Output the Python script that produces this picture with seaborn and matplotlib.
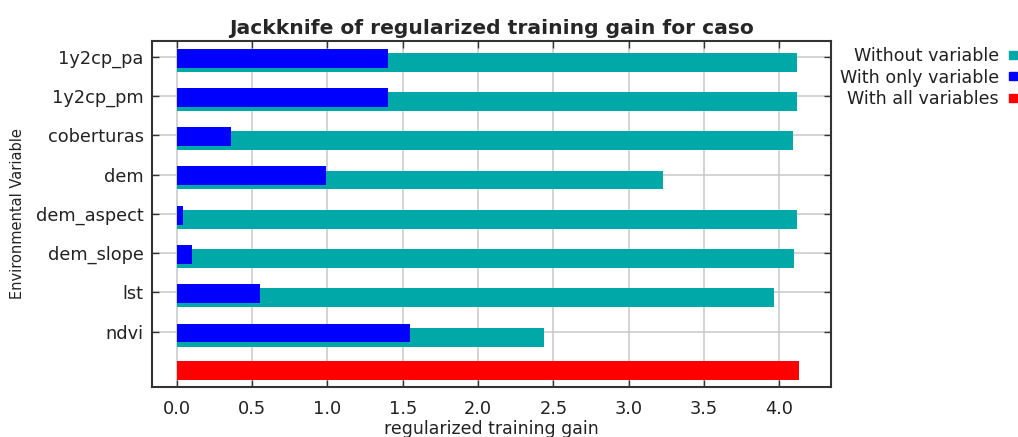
import numpy as np
import pandas as pd
import matplotlib
matplotlib.use("Agg")
import matplotlib.pyplot as plt
from matplotlib.lines import Line2D
import seaborn as sns

variables = ["1y2cp_pa", "1y2cp_pm", "coberturas", "dem", "dem_aspect",
             "dem_slope", "lst", "ndvi"]
without_variable = [4.12, 4.12, 4.09, 3.23, 4.12, 4.10, 3.965, 2.435]
with_only_variable = [1.40, 1.40, 0.36, 0.99, 0.04, 0.10, 0.555, 1.547]
with_all_variables = 4.13
x_ticks = [0.0, 0.5, 1.0, 1.5, 2.0, 2.5, 3.0, 3.5, 4.0]

teal = "#00A8A8"
blue = "#0000FF"
red = "#FF0000"

rows = variables + ["all"]
df = pd.DataFrame({
    "row": rows,
    "without": without_variable + [np.nan],
    "only": with_only_variable + [np.nan],
    "all": [np.nan] * len(variables) + [with_all_variables],
})

sns.set_style("white")
plt.rcParams["font.family"] = ["DejaVu Sans"]

fig = plt.figure(figsize=(10.18, 4.37), dpi=100)
ax = fig.add_axes([0.1493, 0.1144, 0.6670, 0.7918])

bar_h = 0.48
sns.barplot(data=df, x="without", y="row", order=rows, orient="h",
            color=teal, width=bar_h, saturation=1, ax=ax, zorder=2)
n_teal = len(ax.patches)
sns.barplot(data=df, x="only", y="row", order=rows, orient="h",
            color=blue, width=bar_h, saturation=1, ax=ax, zorder=3)
n_blue = len(ax.patches)
sns.barplot(data=df, x="all", y="row", order=rows, orient="h",
            color=red, width=bar_h, saturation=1, ax=ax, zorder=3)

# teal sits a bit lower than the blue bar, like maxent's chart
for i, p in enumerate(ax.patches):
    p.set_edgecolor("none")
    if i < n_teal:
        p.set_y(p.get_y() + 0.14)
    elif i < n_blue:
        p.set_y(p.get_y() + 0.035)

ax.set_xlim(-0.164, 4.343)
ax.set_ylim(8.41, -0.40)
ax.set_xticks(x_ticks)
ax.set_xticklabels([f"{t:.1f}" for t in x_ticks])
ax.set_yticks(range(len(variables)))
ax.set_yticklabels(variables)

ax.grid(True, color="#c8c8c8", linewidth=1.1, zorder=0)
ax.set_axisbelow(True)
for s in ax.spines.values():
    s.set_color("#333333")
    s.set_linewidth(1.5)
ax.tick_params(direction="in", length=5, width=1, color="#333333",
               top=True, right=True, left=True, bottom=True,
               labelsize=12.8, labelcolor="#222222")
ax.tick_params(axis="x", pad=9)
ax.tick_params(axis="y", pad=6)

ax.set_title("Jackknife of regularized training gain for caso",
             fontsize=14.6, fontweight="bold", pad=5)
ax.set_xlabel("regularized training gain", fontsize=12.5, labelpad=2,
              color="#222222")
ax.set_ylabel("Environmental Variable", fontsize=10.5, color="#222222",
              family=["Liberation Sans Narrow", "DejaVu Sans"], labelpad=8)

handles = [Line2D([], [], marker="s", linestyle="none", markersize=5.5,
                  color=c) for c in (teal, blue, red)]
fig.legend(handles, ["Without variable", "With only variable",
                     "With all variables"],
           loc="upper right", bbox_to_anchor=(1.012, 0.921), frameon=False,
           markerfirst=False, fontsize=12.6, handlelength=0.6,
           handletextpad=0.5, labelspacing=0.22, borderpad=0.2,
           labelcolor="#222222")

fig.savefig("out.png", dpi=100)
